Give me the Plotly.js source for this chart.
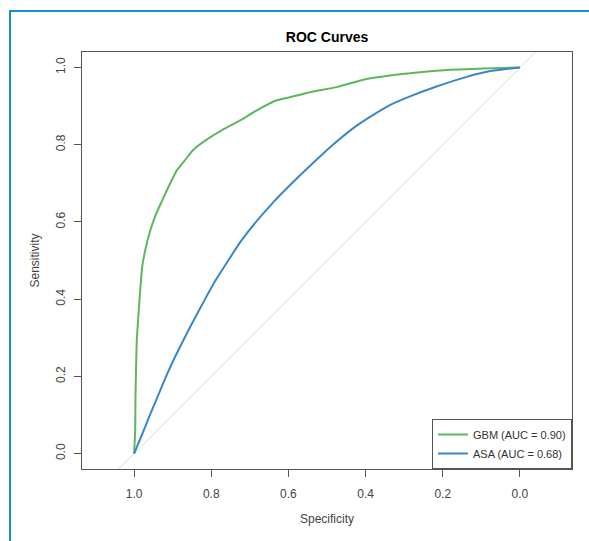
<!DOCTYPE html>
<html>
<head>
<meta charset="utf-8">
<script src="https://cdn.plot.ly/plotly-3.0.1.min.js"></script>
<style>
  html, body { margin: 0; padding: 0; background: #fff; }
  #wrap { position: relative; width: 589px; height: 541px; }
  #chart { position: absolute; left: 0; top: 0; width: 589px; height: 541px; }
  #frame { position: absolute; left: 9px; top: 10px; width: 600px; height: 600px;
           border-left: 2px solid #1a8ccc; border-top: 2px solid #1a8ccc; pointer-events: none; }
</style>
</head>
<body>
<div id="wrap">
  <div id="chart"></div>
  <div id="frame"></div>
</div>
<script>
// GBM ROC curve (specificity, sensitivity)
const gbmSpec = [1.0, 0.997, 0.9965, 0.995, 0.993, 0.986, 0.979, 0.971, 0.960, 0.946, 0.932, 0.915, 0.889, 0.868, 0.847, 0.812, 0.773, 0.725, 0.682, 0.630, 0.596, 0.544, 0.475, 0.406, 0.337, 0.285, 0.233, 0.181, 0.096, 0.0];
const gbmSens = [0.0, 0.062, 0.140, 0.217, 0.295, 0.398, 0.484, 0.527, 0.571, 0.613, 0.645, 0.682, 0.734, 0.760, 0.786, 0.813, 0.837, 0.863, 0.889, 0.915, 0.923, 0.936, 0.949, 0.968, 0.979, 0.985, 0.990, 0.994, 0.997, 1.0];

// ASA ROC curve (specificity, sensitivity)
const asaSpec = [1.0, 0.979, 0.959, 0.938, 0.917, 0.894, 0.869, 0.843, 0.816, 0.788, 0.756, 0.723, 0.684, 0.640, 0.591, 0.539, 0.4845, 0.422, 0.342, 0.285, 0.218, 0.140, 0.080, 0.0];
const asaSens = [0.0, 0.05, 0.10, 0.15, 0.20, 0.25, 0.30, 0.35, 0.40, 0.45, 0.50, 0.55, 0.60, 0.65, 0.70, 0.75, 0.80, 0.85, 0.90, 0.925, 0.95, 0.975, 0.99, 1.0];

// chance diagonal (clipped by the axes)
const diagSpec = [1.2, -0.2];
const diagSens = [-0.2, 1.2];

const seriesNames = ["GBM (AUC = 0.90)", "ASA (AUC = 0.68)"];
const tickVals = [1.0, 0.8, 0.6, 0.4, 0.2, 0.0];
const tickText = ["1.0", "0.8", "0.6", "0.4", "0.2", "0.0"];

const FONT = "Liberation Sans, Arial, sans-serif";
const axisColor = "#555555";
const textColor = "#444444";

const traces = [
  { x: diagSpec, y: diagSens, mode: "lines", showlegend: false, hoverinfo: "skip",
    line: { color: "#d9d9d9", width: 1 } },
  { x: gbmSpec, y: gbmSens, mode: "lines", name: seriesNames[0],
    line: { color: "#5cb85c", width: 2, shape: "spline", smoothing: 0.4 } },
  { x: asaSpec, y: asaSens, mode: "lines", name: seriesNames[1],
    line: { color: "#3a87c8", width: 2, shape: "spline", smoothing: 0.6 } }
];

const layout = {
  width: 589, height: 541,
  margin: { l: 82, r: 17, t: 52, b: 72, pad: 0 },
  paper_bgcolor: "#ffffff", plot_bgcolor: "#ffffff",
  font: { family: FONT, color: textColor, size: 12 },
  title: { text: "ROC Curves", font: { family: FONT, size: 14, color: "#000000", weight: "bold" },
           x: 0.5, xref: "paper", xanchor: "center", y: 1 - 37/541, yref: "container", yanchor: "middle" },
  xaxis: {
    range: [1.135, -0.135], tickmode: "array", tickvals: tickVals, ticktext: tickText,
    ticks: "outside", ticklen: 7, tickcolor: axisColor, tickwidth: 1,
    showline: true, mirror: true, linecolor: axisColor, linewidth: 1,
    showgrid: false, zeroline: false, ticklabelstandoff: 7,
    tickfont: { family: FONT, size: 12, color: textColor },
    title: { text: "Specificity", font: { family: FONT, size: 12, color: textColor }, standoff: 14 }
  },
  yaxis: {
    range: [-0.04, 1.04], tickmode: "array", tickvals: tickVals, ticktext: tickText,
    tickangle: -90,
    ticks: "outside", ticklen: 7, tickcolor: axisColor, tickwidth: 1,
    showline: true, mirror: true, linecolor: axisColor, linewidth: 1,
    showgrid: false, zeroline: false, ticklabelstandoff: 4,
    tickfont: { family: FONT, size: 12, color: textColor },
    title: { text: "Sensitivity", font: { family: FONT, size: 12, color: textColor }, standoff: 12 }
  },
  legend: {
    x: 1, xanchor: "right", y: 0, yanchor: "bottom",
    bgcolor: "#ffffff", bordercolor: axisColor, borderwidth: 1,
    font: { family: FONT, size: 11, color: "#333333" },
    itemwidth: 30, tracegroupgap: 0
  },
  showlegend: true
};

Plotly.newPlot("chart", traces, layout, { displayModeBar: false, staticPlot: true });
</script>
</body>
</html>
